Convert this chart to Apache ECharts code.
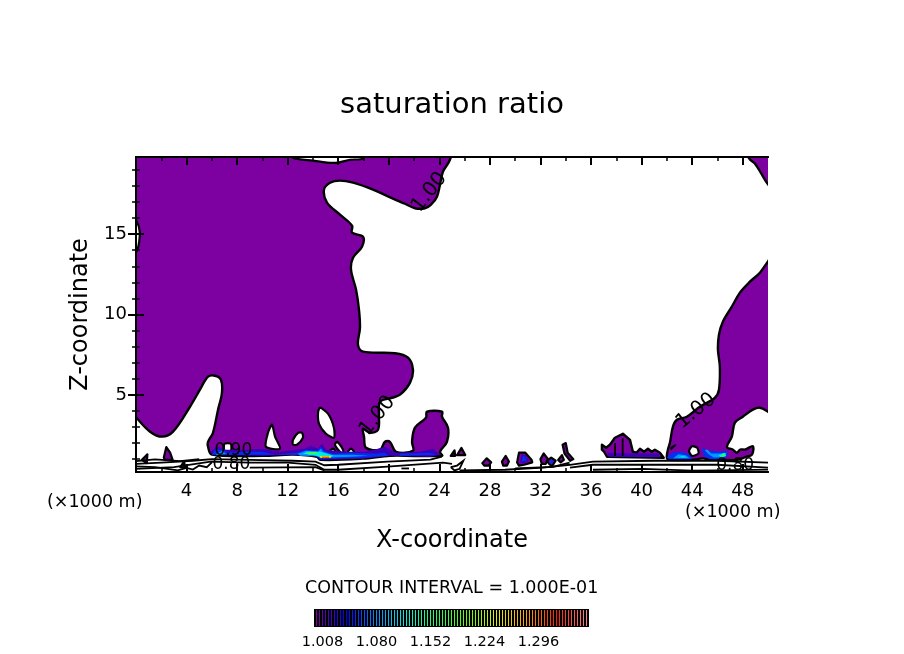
<!DOCTYPE html>
<html><head><meta charset="utf-8">
<style>html,body{margin:0;padding:0;background:#fff}#c{width:904px;height:654px}</style>
<script src="https://cdn.jsdelivr.net/npm/echarts@6/dist/echarts.min.js"></script></head>
<body><div id="c"></div>
<script>
const xMajorTicks=[4,8,12,16,20,24,28,32,36,40,44,48];
const xMinorTicks=[2,6,10,14,18,22,26,30,34,38,42,46];
const zMajorTicks=[5,10,15];
const zMinorTicks=[1,2,3,4,6,7,8,9,11,12,13,14,16,17,18,19];
const colorLevels=['1.000','1.004','1.008','1.012','1.016','1.020','1.024','1.028','1.032','1.036','1.040','1.044','1.048','1.052','1.056','1.060','1.064','1.068','1.072','1.076','1.080','1.084','1.088','1.092','1.096','1.100','1.104','1.108','1.112','1.116','1.120','1.124','1.128','1.132','1.136','1.140','1.144','1.148','1.152','1.156','1.160','1.164','1.168','1.172','1.176','1.180','1.184','1.188','1.192','1.196','1.200','1.204','1.208','1.212','1.216','1.220','1.224','1.228','1.232','1.236','1.240','1.244','1.248','1.252','1.256','1.260','1.264','1.268','1.272','1.276','1.280','1.284','1.288','1.292','1.296','1.300','1.304','1.308','1.312','1.316','1.320','1.324','1.328','1.332','1.336','1.340','1.344','1.348','1.352','1.356','1.360'];
const colorTickLabels=['1.008','1.080','1.152','1.224','1.296'];
const rampColors=['#800099','#0000ff','#0090ff','#00f0e0','#20ff60','#60ff00','#e0f000','#ffa000','#ff2000','#ff8080'];

// saturation-ratio regions, [x (km), z (km)]
const mainRegion=[[-0.6,20.4],[24.9,20.4],[24.84,19.63],[24.29,18.89],[24.05,18.08],[23.81,17.33],[23.34,16.83],[22.86,16.61],[22.07,16.61],[21.28,16.89],[20.33,17.21],[18.75,17.77],[17.17,18.2],[16.14,18.33],[15.35,18.2],[14.87,17.77],[15.11,16.96],[16.14,16.21],[17.09,15.53],[17.09,15.09],[17.96,14.84],[17.88,14.22],[17.17,13.53],[17.01,12.79],[17.41,11.54],[17.64,10.3],[17.72,9.18],[17.56,8.12],[17.96,7.69],[20.49,7.59],[21.52,7.31],[21.91,6.57],[21.68,5.76],[20.89,5.01],[20.25,4.82],[19.3,4.57],[19.22,3.76],[19.15,2.83],[18.51,2.64],[17.96,2.89],[18.04,2.4],[18.2,1.71],[19.3,1.59],[19.7,2.08],[20.09,2.08],[20.57,1.46],[21.91,1.52],[21.84,2.08],[22.07,2.96],[22.94,3.58],[23.02,3.95],[24.21,3.95],[24.21,3.64],[24.68,2.96],[24.6,2.08],[24.05,1.46],[24.21,1.21],[20.09,1.21],[17.96,1.03],[14.56,0.96],[14.32,1.15],[12.42,1.28],[10.05,1.21],[6.01,1.28],[5.7,1.77],[5.7,2.08],[6.09,2.64],[6.49,4.08],[6.8,5.13],[6.72,5.94],[6.25,6.19],[5.7,6.13],[5.06,5.32],[4.27,4.26],[2.93,2.71],[2.06,2.4],[1.11,2.71],[0,3.6],[-0.6,4.1]];
const rightRegion=[[50.6,13.9],[50,13.3],[49.36,12.6],[48.57,12.04],[47.78,11.36],[47.14,10.49],[46.43,9.55],[46.12,8.74],[46.04,7.81],[46.19,6.75],[46.12,5.32],[45.8,4.82],[44.61,4.26],[43.58,3.64],[42.79,3.45],[42.48,3.02],[42.24,2.02],[42.08,1.59],[42,1.09],[42.2,0.96],[44,0.96],[44.85,1.05],[45.4,0.96],[46.35,0.96],[47.5,0.95],[48.3,1.15],[48.73,1.28],[48.8,1.8],[48.2,1.6],[47.8,1.6],[47.55,1.4],[47.2,1.6],[46.75,1.75],[47.14,2.4],[47.38,3.27],[48.01,3.64],[48.8,4.08],[49.36,4.2],[50,3.95],[50.6,3.6]];
const cornerRegion=[[48.0,20.4],[50.6,20.4],[50.6,17.6],[50,18.1],[49.52,18.7],[48.96,19.4],[48.57,19.65]];
const hillRegion=[[36.86,1.59],[36.86,1.9],[37.2,1.71],[37.49,1.9],[37.89,2.33],[38.52,2.58],[39.08,2.2],[39.31,1.46],[39.6,1.4],[39.87,1.65],[40.2,1.46],[40.5,1.65],[40.8,1.46],[41.05,1.59],[41.45,1.4],[41.75,1.09],[37.26,1.15],[37.03,1.46]];
const smallCells=[
 [[27.4,0.75],[27.75,1.05],[28.1,0.8],[27.9,0.6],[27.55,0.6]],
 [[28.95,0.85],[29.25,1.2],[29.5,0.85],[29.35,0.6],[29.05,0.6]],
 [[30.15,0.8],[30.3,1.4],[30.8,1.4],[31.3,0.95],[31.35,0.8],[30.7,0.65],[30.3,0.6]],
 [[32,1],[32.25,1.35],[32.6,1],[32.4,0.7],[32.1,0.7]],
 [[32.5,0.9],[32.85,1.1],[33.2,0.9],[32.9,0.55],[32.7,0.7]],
 [[33.4,0.95],[33.7,1.25],[33.85,0.95],[33.6,0.8]],
 [[33.75,1.9],[34,2],[34.15,1.4],[34.6,1],[34.35,0.9],[33.9,1.35]],
 [[24.9,1.2],[25.2,1.55],[25.25,1.2]],
 [[25.4,1.25],[25.75,1.7],[26.05,1.25]],
 [[0.45,0.95],[0.9,1.3],[0.85,0.75]],
 [[2.2,1.1],[2.4,1.75],[2.7,1.4],[2.9,0.95],[2.3,0.95]],
 [[3.5,0.5],[3.8,0.85],[3.9,0.45]]
];
const whiteHoles=[
 [[12.42,20.2],[12.42,19.75],[14,19.57],[15.11,19.45],[15.98,19.45],[16.93,19.63],[17.96,19.7],[17.96,20.2]],
 [[-0.4,16.1],[0,15.9],[0.3,15.1],[0.1,14],[-0.4,13.8]],
 [[10.76,3.14],[10.44,2.64],[10.28,1.77],[11.39,1.65],[11,2.4]],
 [[13.13,2.64],[13.21,2.33],[12.74,1.9],[12.42,1.9],[12.42,2.21],[12.82,2.64]],
 [[14.56,4.2],[15.19,3.83],[15.66,2.96],[15.66,2.33],[15.03,2.58],[14.48,3.2],[14.4,3.89]],
 [[15.9,2.08],[16.38,1.59],[16.38,1.34],[16.06,1.52],[15.74,1.9]],
 [[15.59,1.65],[15.82,1.4],[15.19,1.4]],
 [[17.01,1.65],[17.25,1.46],[17.01,1.34],[16.77,1.46]],
 [[7.0,1.95],[7.5,1.95],[7.5,1.5],[7.0,1.5]],
 [[43.75,1.5],[44,1.8],[44.4,1.7],[44.5,1.35],[44,1.2]]
];
const navyPatches=[
 [[5.85,1.46],[6.49,1.77],[7.12,1.59],[9.02,1.59],[9.97,1.65],[11.39,1.46],[12.66,1.59],[13.37,1.65],[13.84,1.84],[14.4,1.65],[14.71,1.96],[15.03,1.59],[16.53,1.46],[18.11,1.46],[19.14,1.65],[19.78,1.77],[20.57,1.4],[22.46,1.46],[23.49,1.65],[24.13,1.28],[23.26,1.15],[20.09,1.21],[17.96,1.03],[14.56,0.96],[14.32,1.15],[12.42,1.28],[10.05,1.21],[6.09,1.28]],
 [[37.3,1.4],[39.3,1.35],[41.3,1.35],[41.5,1.12],[37.4,1.15]],
 [[30.4,0.8],[30.5,1.3],[30.8,1.25],[31.1,0.9],[30.6,0.72]]
];
const bluePatches=[
 [[6.01,1.28],[6.33,1.65],[6.96,1.52],[7.36,1.4],[9.02,1.46],[9.97,1.46],[11,1.28],[12.66,1.4],[13.45,1.59],[14.32,1.52],[14.63,1.77],[14.87,1.52],[15.58,1.34],[16.93,1.4],[18.9,1.34],[19.7,1.4],[19.93,1.21],[17.72,1.09],[14.55,1.03],[14.32,1.21],[12.42,1.28],[10.05,1.28]],
 [[20.88,1.34],[23.26,1.4],[23.73,1.28],[20.88,1.21]],
 [[42,1.1],[42.4,1.4],[43.2,1.46],[43.8,1.28],[44,1],[42.2,1]],
 [[44.77,1.71],[45.24,1.52],[46.2,1.46],[46.75,1.52],[46.83,1.21],[46.35,1],[45.4,1],[44.9,1.21]],
 [[30.5,0.85],[30.6,1.2],[30.8,1.15],[30.95,0.9]],
 [[32.7,0.75],[32.85,1],[33.05,0.9],[32.9,0.7]]
];
const azurePatches=[
 [[6.33,1.28],[6.8,1.52],[7.12,1.34],[6.33,1.25]],
 [[12.81,1.34],[13.45,1.52],[14.4,1.46],[14.63,1.65],[14.79,1.46],[15.5,1.28],[17.09,1.28],[18.35,1.21],[17.09,1.15],[14.71,1.09],[14.16,1.21],[12.97,1.21]],
 [[42.5,1.05],[42.9,1.3],[43.5,1.25],[43.8,1.05]],
 [[45,1.55],[45.3,1.3],[45.7,1.1],[46.4,1.1],[46.75,1.4],[46.2,1.35],[45.5,1.35],[45.2,1.6]]
];
const cyanPatches=[
 [[13.21,1.34],[13.53,1.46],[14.55,1.46],[15.66,1.21],[14.71,1.12],[13.92,1.28]],
 [[42.8,1.1],[43.3,1.2],[43.6,1.1]],
 [[46.1,1.25],[46.6,1.4],[46.7,1.2],[46.3,1.08]]
];
const greenPatches=[
 [[13.45,1.4],[14.24,1.46],[14.4,1.34],[13.68,1.28]],
 [[14.4,1.21],[15.35,1.21],[15.58,1.15],[14.71,1.09]],
 [[46.3,1.3],[46.55,1.35],[46.6,1.2],[46.4,1.18]]
];
const yellowPatches=[[[14.55,1.18],[15.42,1.18],[15.42,1.09],[14.55,1.09]]];
const redPatches=[[[14.71,1.15],[15.27,1.15],[15.27,1.09],[14.71,1.09]]];
const contourLines=[
 [[0,0.7],[2,0.78],[4.5,0.9],[6,1],[9,0.95],[12.4,0.9],[14.2,0.84],[14.9,0.62],[16,0.65],[19.9,0.84],[23.3,0.97],[24.2,1.15]],
 [[0,0.4],[3,0.5],[5.9,0.84],[9,0.78],[12,0.78],[14.2,0.65],[14.9,0.34],[16,0.34],[19.9,0.53],[24.3,0.78],[25,0.7]],
 [[0,0.55],[1.5,0.5],[2.5,0.4],[3.3,0.3],[4,0.45],[4.5,0.35],[5,0.6],[5.6,0.5],[6,0.8]],
 [[0,0.88],[1.5,0.98],[3.5,0.88],[5,1.0]],
 [[9,0.47],[14.2,0.5],[14.9,0.3]],
 [[21,0.42],[21.6,0.42]],
 [[24.9,0.5],[25.4,0.6],[25.9,0.9],[25.6,0.4],[25.2,0.3],[24.9,0.5]],
 [[25.6,0.3],[29.2,0.34],[32.2,0.47],[34.33,0.65],[36.15,0.84],[41,0.9],[45.96,0.9],[50,0.78]],
 [[30,0.42],[33,0.52],[34.3,0.78]],
 [[34.33,0.47],[36.15,0.65],[40.1,0.65],[45.96,0.65],[50,0.47]],
 [[36.15,0.34],[40.1,0.4],[44,0.28],[46,0.3],[50,0.35]],
 [[37.9,1.2],[37.9,2.0]],[[38.5,1.2],[38.5,2.3]],
 [[42.3,1.6],[42.7,1.9],[42.3,1.7]]
];
const contourLabels=[
 {text:'1.00',x:23.2,z:17.6,angle:52},
 {text:'1.00',x:19.1,z:3.7,angle:52},
 {text:'1.00',x:44.3,z:4.0,angle:39},
 {text:'0.90',x:7.7,z:1.55,angle:0},
 {text:'0.80',x:7.55,z:0.68,angle:0},
 {text:'0.80',x:47.4,z:0.62,angle:0}
];

const PURPLE='#7d00a0',INK='#000';
const layers=[];
const add=(list,fill,stroke,lw,smooth)=>list.forEach(pts=>layers.push({pts,fill,stroke,lw,smooth}));
add([mainRegion,rightRegion,cornerRegion],PURPLE,INK,2.4,0.35);
add([hillRegion],PURPLE,INK,2.4,0);
add(smallCells,PURPLE,INK,2.2,0);
add(whiteHoles,'#fff',INK,2.2,0.25);
add(navyPatches,'#3c00b8',null,0,0);
add(bluePatches,'#0030f0',null,0,0);
add(azurePatches,'#0098ff',null,0,0);
add(cyanPatches,'#00e8e8',null,0,0);
add(greenPatches,'#30ff50',null,0,0);
add(yellowPatches,'#f0f000',null,0,0);
add(redPatches,'#ff2000',null,0,0);
contourLines.forEach(pts=>layers.push({pts,line:true}));

function renderShape(params,api){
  const l=layers[params.dataIndex];
  const points=l.pts.map(p=>api.coord(p));
  if(l.line) return {type:'polyline',shape:{points},style:{fill:null,stroke:INK,lineWidth:1.8}};
  return {type:'polygon',shape:{points,smooth:l.smooth},style:{fill:l.fill,stroke:l.stroke,lineWidth:l.lw,lineJoin:'round'}};
}
function renderLabel(params,api){
  const l=contourLabels[params.dataIndex];
  const c=api.coord([l.x,l.z]);
  const size=l.angle?20:17;
  return {type:'text',x:c[0],y:c[1],rotation:l.angle*Math.PI/180,
    style:{text:l.text,font:size+'px "DejaVu Sans"',fill:INK,align:'center',verticalAlign:'middle'}};
}
const FONT='"DejaVu Sans"';
const line={show:true,lineStyle:{color:INK,width:2}};
const tick=(vals,len,w)=>({show:true,inside:true,length:len,customValues:vals,lineStyle:{color:INK,width:w}});
const xAxisFor=(pos,vals,len,w,extra)=>Object.assign({type:'value',gridIndex:0,position:pos,min:0,max:50,z:5,
  axisLine:line,axisTick:tick(vals,len,w),axisLabel:{show:false},splitLine:{show:false}},extra||{});
const yAxisFor=(pos,vals,len,w,extra)=>Object.assign({type:'value',gridIndex:0,position:pos,min:0.2,max:19.8,z:5,
  axisLine:line,axisTick:tick(vals,len,w),axisLabel:{show:false},splitLine:{show:false}},extra||{});

const chart=echarts.init(document.getElementById('c'),null,{renderer:'canvas'});
chart.setOption({
  animation:false,backgroundColor:'#fff',
  textStyle:{fontFamily:FONT,color:INK},
  title:[
    {text:'saturation ratio',left:'center',top:86,textStyle:{fontFamily:FONT,fontSize:29,fontWeight:'normal',color:INK}},
    {text:'CONTOUR INTERVAL = 1.000E-01',left:300,top:574,textStyle:{fontFamily:FONT,fontSize:17.5,fontWeight:'normal',color:INK}},
    {text:'(×1000 m)',left:42,top:488,textStyle:{fontFamily:FONT,fontSize:17.5,fontWeight:'normal',color:INK}},
    {text:'(×1000 m)',left:680,top:498,textStyle:{fontFamily:FONT,fontSize:17.5,fontWeight:'normal',color:INK}}
  ],
  grid:[
    {left:136,top:157,width:632,height:315},
    {left:315,top:610,width:273,height:16,show:true,backgroundColor:'#000',borderColor:'#000',borderWidth:2}
  ],
  xAxis:[
    xAxisFor('bottom',xMajorTicks,8,2,{name:'X-coordinate',nameLocation:'middle',nameGap:57,
      nameTextStyle:{fontFamily:FONT,fontSize:24,color:INK},
      axisLabel:{show:true,customValues:xMajorTicks,margin:10,fontFamily:FONT,fontSize:18,color:INK}}),
    xAxisFor('bottom',xMinorTicks,4,1.5),
    xAxisFor('top',xMajorTicks,8,2),
    xAxisFor('top',xMinorTicks,4,1.5),
    {type:'category',gridIndex:1,data:colorLevels,position:'bottom',z:5,
      axisLine:{show:false},axisTick:{show:false},splitLine:{show:false},
      axisLabel:{margin:9,fontFamily:FONT,fontSize:14.5,color:INK,interval:(i,v)=>colorTickLabels.includes(v)}}
  ],
  yAxis:[
    yAxisFor('left',zMajorTicks,8,2,{name:'Z-coordinate',nameLocation:'middle',nameGap:39,nameRotate:90,
      nameTextStyle:{fontFamily:FONT,fontSize:24,color:INK},
      axisLabel:{show:true,customValues:zMajorTicks,margin:9,fontFamily:FONT,fontSize:18,color:INK}}),
    yAxisFor('left',zMinorTicks,4,1.5),
    yAxisFor('right',zMajorTicks,8,2),
    yAxisFor('right',zMinorTicks,4,1.5),
    {type:'value',gridIndex:1,min:0,max:1,show:false}
  ],
  visualMap:{show:false,type:'continuous',min:1,max:1.36,dimension:2,seriesIndex:2,inRange:{color:rampColors}},
  series:[
    {type:'custom',xAxisIndex:0,yAxisIndex:0,renderItem:renderShape,clip:true,silent:true,z:2,
      data:layers.map(l=>l.pts[0])},
    {type:'custom',xAxisIndex:0,yAxisIndex:0,renderItem:renderLabel,silent:true,z:3,
      data:contourLabels.map(l=>[l.x,l.z])},
    {type:'bar',xAxisIndex:4,yAxisIndex:4,barWidth:1,silent:true,
      encode:{x:0,y:1},
      data:colorLevels.map(v=>[v,1,+v])}
  ]
});
</script></body></html>
